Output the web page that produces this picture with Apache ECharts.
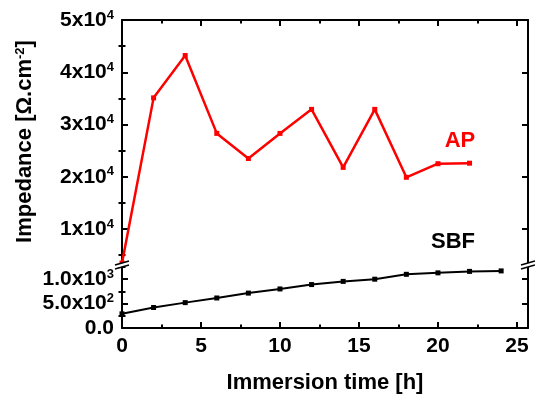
<!DOCTYPE html>
<html><head><meta charset="utf-8">
<script src="https://cdn.jsdelivr.net/npm/echarts@6/dist/echarts.min.js"></script>
<style>html,body{margin:0;padding:0;background:#fff}#c{width:535px;height:395px}</style>
</head><body><div id="c"></div>
<script>
// ---- data ----
const sbfHours = [0, 2, 4, 6, 8, 10, 12, 14, 16, 18, 20, 22, 24];
const sbfValues = [290, 420, 520, 615, 715, 800, 890, 955, 1000, 1100, 1130, 1160, 1170];
const apHours = [0, 2, 4, 6, 8, 10, 12, 14, 16, 18, 20, 22];
const apValues = [3500, 35100, 43200, 28300, 23500, 28300, 32900, 21800, 32900, 19900, 22500, 22600];
const xMajorTicks = [0, 5, 10, 15, 20, 25];
const xMinorTicks = [2.5, 7.5, 12.5, 17.5, 22.5];
const upperMajorTicks = [10000, 20000, 30000, 40000, 50000];
const upperMinorTicks = [5000, 15000, 25000, 35000, 45000];
const upperTickLabels = ['1x10^4', '2x10^4', '3x10^4', '4x10^4', '5x10^4'];
const lowerMajorTicks = [0, 500, 1000];
const lowerMinorTicks = [250, 750, 1250];
const lowerTickLabels = ['0.0', '5.0x10^2', '1.0x10^3'];
const seriesNames = ['AP', 'SBF'];

// ---- chart ----
const FONT = '"Liberation Sans", Arial, sans-serif';
const rich = {
  m: {fontSize: 21, fontWeight: 'bold', fontFamily: FONT, color: '#000', lineHeight: 23},
  e: {fontSize: 13, fontWeight: 'bold', fontFamily: FONT, color: '#000', verticalAlign: 'top', lineHeight: 12}
};
function fmt(str) {
  const p = str.split('^');
  return p.length > 1 ? '{m|' + p[0] + '}{e|' + p[1] + '}' : '{m|' + p[0] + '}';
}
function labelFor(ticks, labels) {
  return function (v) {
    for (let i = 0; i < ticks.length; i++) if (Math.abs(ticks[i] - v) < 1e-6) return fmt(labels[i]);
    return '';
  };
}
const lineStyle = {color: '#000', width: 2};
function axis(base, o) {
  return Object.assign({
    type: 'value', splitLine: {show: false},
    axisLine: {show: true, onZero: false, lineStyle: lineStyle},
    axisLabel: {show: false},
    axisTick: {show: true, inside: true, length: 6, lineStyle: lineStyle}
  }, base, o);
}
function minorAxis(base, ticks) {
  return axis(base, {
    axisLine: {show: false},
    axisTick: {show: true, inside: true, length: 3.5, customValues: ticks, lineStyle: lineStyle}
  });
}
const xBase0 = {gridIndex: 0, min: 0, max: 25.7, position: 'top'};
const xBase1 = {gridIndex: 1, min: 0, max: 25.7, position: 'bottom'};
const yUp = {gridIndex: 0, min: 3500, max: 50000};
const yLo = {gridIndex: 1, min: 0, max: 1250};

const xAxis = [
  axis(xBase0, {axisTick: {show: true, inside: true, length: 6, customValues: xMajorTicks, lineStyle: lineStyle}}),
  minorAxis(xBase0, xMinorTicks),
  axis(xBase1, {
    axisTick: {show: true, inside: true, length: 6, customValues: xMajorTicks, lineStyle: lineStyle},
    axisLabel: {show: true, customValues: xMajorTicks, margin: 8, fontSize: 21, fontWeight: 'bold', fontFamily: FONT, color: '#000'},
    name: 'Immersion time [h]', nameLocation: 'middle', nameGap: 44,
    nameTextStyle: {fontSize: 22, fontWeight: 'bold', fontFamily: FONT, color: '#000'}
  }),
  minorAxis(xBase1, xMinorTicks)
];
const yAxis = [
  axis(Object.assign({position: 'left'}, yUp), {
    axisTick: {show: true, inside: true, length: 6, customValues: upperMajorTicks, lineStyle: lineStyle},
    axisLabel: {show: true, customValues: upperMajorTicks, margin: 8, formatter: labelFor(upperMajorTicks, upperTickLabels), rich: rich},
    name: 'Impedance [Ω.cm{s|-2}]', nameLocation: 'middle', nameGap: 86,
    nameTextStyle: {fontSize: 22, fontWeight: 'bold', fontFamily: FONT, color: '#000',
      rich: {s: {fontSize: 13, fontWeight: 'bold', fontFamily: FONT, color: '#000', verticalAlign: 'top', lineHeight: 13}}}
  }),
  minorAxis(Object.assign({position: 'left'}, yUp), upperMinorTicks),
  axis(Object.assign({position: 'right'}, yUp), {axisTick: {show: true, inside: true, length: 6, customValues: upperMajorTicks, lineStyle: lineStyle}}),
  minorAxis(Object.assign({position: 'right'}, yUp), upperMinorTicks),
  axis(Object.assign({position: 'left'}, yLo), {
    axisTick: {show: true, inside: true, length: 6, customValues: lowerMajorTicks, lineStyle: lineStyle},
    axisLabel: {show: true, customValues: lowerMajorTicks, margin: 8, formatter: labelFor(lowerMajorTicks, lowerTickLabels), rich: rich}
  }),
  minorAxis(Object.assign({position: 'left'}, yLo), lowerMinorTicks),
  axis(Object.assign({position: 'right'}, yLo), {axisTick: {show: true, inside: true, length: 6, customValues: lowerMajorTicks, lineStyle: lineStyle}}),
  minorAxis(Object.assign({position: 'right'}, yLo), lowerMinorTicks)
];

function breakMarks(cx) {
  return [
    {type: 'rect', shape: {x: cx - 4, y: 263, width: 8, height: 4}, style: {fill: '#fff'}, z: 100},
    {type: 'line', shape: {x1: cx - 7, y1: 265, x2: cx + 7, y2: 261}, style: {stroke: '#000', lineWidth: 1.6}, z: 101},
    {type: 'line', shape: {x1: cx - 7, y1: 269, x2: cx + 7, y2: 265}, style: {stroke: '#000', lineWidth: 1.6}, z: 101}
  ];
}

const chart = echarts.init(document.getElementById('c'), null, {renderer: 'canvas'});
chart.setOption({
  animation: false,
  backgroundColor: '#fff',
  grid: [
    {left: 122, right: 7, top: 20, height: 243},
    {left: 122, right: 7, top: 267, height: 61}
  ],
  xAxis: xAxis,
  yAxis: yAxis,
  series: [
    {name: seriesNames[0], type: 'line', xAxisIndex: 0, yAxisIndex: 0,
      data: apHours.map((h, i) => [h, apValues[i]]),
      symbol: 'rect', symbolSize: 5, lineStyle: {color: '#ff0000', width: 2.5}, itemStyle: {color: '#ff0000'}},
    {name: seriesNames[1], type: 'line', xAxisIndex: 2, yAxisIndex: 4,
      data: sbfHours.map((h, i) => [h, sbfValues[i]]),
      symbol: 'rect', symbolSize: 5, lineStyle: {color: '#000', width: 2}, itemStyle: {color: '#000'}}
  ],
  graphic: [
    {type: 'text', x: 460, y: 141, style: {text: seriesNames[0], fill: '#ff0000', font: 'bold 22px ' + FONT, textAlign: 'center', textVerticalAlign: 'middle'}},
    {type: 'text', x: 453, y: 242, style: {text: seriesNames[1], fill: '#000', font: 'bold 22px ' + FONT, textAlign: 'center', textVerticalAlign: 'middle'}}
  ].concat(breakMarks(122), breakMarks(528))
});
</script></body></html>
